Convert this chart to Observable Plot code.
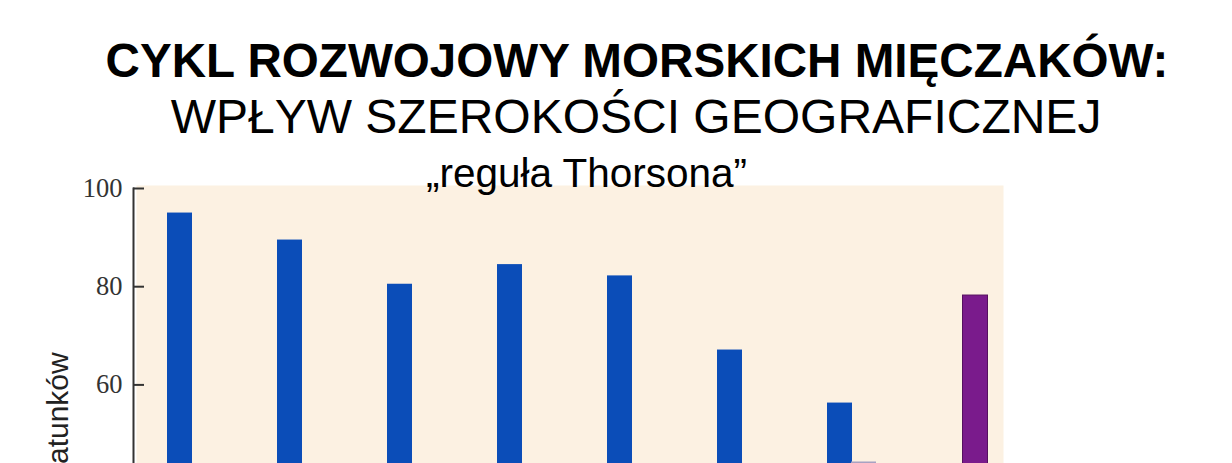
<!DOCTYPE html>
<html>
<head>
<meta charset="utf-8">
<script src="https://cdn.jsdelivr.net/npm/d3@7"></script>
<script src="https://cdn.jsdelivr.net/npm/@observablehq/plot@0.6"></script>
<style>
html, body { margin: 0; padding: 0; background: #ffffff; }
body { width: 1232px; height: 463px; overflow: hidden; position: relative; font-family: "Liberation Sans", Arial, sans-serif; }
.t { position: absolute; left: 0; width: 1232px; box-sizing: border-box; text-align: center; white-space: nowrap; color: #000; z-index: 2; }
#t1 { top: 37px; font-size: 47.6px; line-height: 48px; font-weight: bold; padding-left: 42px; }
#t2 { top: 93px; font-size: 48px; line-height: 48px; padding-left: 40px; }
#t3 { top: 153px; font-size: 40.5px; line-height: 40px; padding-right: 59px; }
#chart { position: absolute; top: 150px; left: 0; z-index: 1; }
</style>
</head>
<body>
<div class="t" id="t1">CYKL ROZWOJOWY MORSKICH MIĘCZAKÓW:</div>
<div class="t" id="t2">WPŁYW SZEROKOŚCI GEOGRAFICZNEJ</div>
<div class="t" id="t3">„reguła Thorsona”</div>
<div id="chart"></div>
<script>
// Latitude zones (x categories; their labels lie below the visible crop)
const categories = ["0°", "10°", "20°", "30°", "40°", "50°", "60°", "70°"];
// Blue series: % of species
const bluePct = [95, 89.5, 80.5, 84.5, 82.2, 67.1, 56.3, null];
// Grey-lavender series (only the one bar reaching into view)
const greyPct = [null, null, null, null, null, null, 44.3, null];
// Purple series
const purplePct = [null, null, null, null, null, null, null, 78.2];
// Y tick values
const yTicks = [0, 20, 40, 60, 80, 100];
const yLabel = "% gatunków";

const data = categories.map((c, i) => ({cat: c, blue: bluePct[i], grey: greyPct[i], purple: purplePct[i]}));

const chart = Plot.plot({
  width: 1232,
  height: 579,
  marginTop: 38,
  marginBottom: 50,
  marginLeft: 133,
  marginRight: 229,
  style: {background: "transparent", overflow: "visible"},
  x: {domain: categories, paddingInner: 0.558, paddingOuter: 0.203, align: 0.667, label: null},
  y: {domain: [0, 100], label: null},
  marks: [
    Plot.frame({fill: "#fcf1e2", stroke: "none", insetLeft: 3, insetTop: -3}),
    Plot.barY(data, {x: "cat", y: "blue", fill: "#0b4db8", insetRight: 24}),
    Plot.barY(data, {x: "cat", y: "grey", fill: "#a7a2c2", insetLeft: 24}),
    Plot.barY(data, {x: "cat", y: "purple", fill: "#7a1b8c", stroke: "#56105f", strokeWidth: 1, insetLeft: 24, dx: 1.5}),
    Plot.frame({anchor: "left", stroke: "#333", strokeWidth: 2}),
    Plot.axisY(yTicks, {tickSize: -11, tickPadding: 22, color: "#333", strokeWidth: 2, fontFamily: "Liberation Serif", fontSize: 26.5, label: null}),
    Plot.axisX({tickSize: 0, fontSize: 22, fontFamily: "Liberation Sans", label: null}),
    Plot.text([yLabel], {text: d => d, frameAnchor: "left", textAnchor: "middle", dx: -75, rotate: -90, fontSize: 30, fontFamily: "Liberation Sans", fill: "#222"})
  ]
});
document.getElementById("chart").appendChild(chart);
</script>
</body>
</html>
